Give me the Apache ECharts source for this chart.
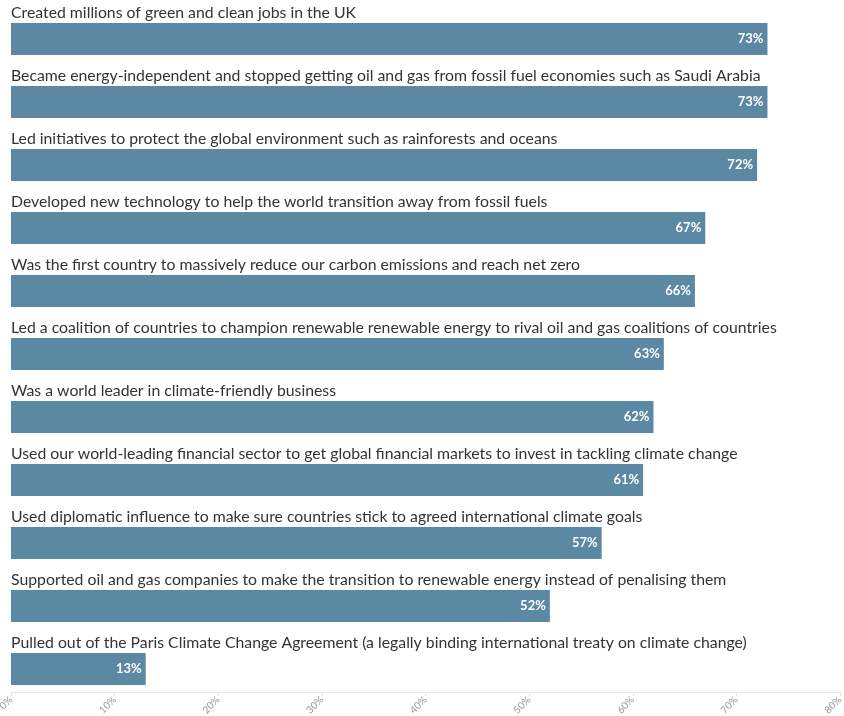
<!DOCTYPE html>
<html>
<head>
<meta charset="utf-8">
<script src="https://cdn.jsdelivr.net/npm/echarts@6/dist/echarts.min.js"></script>
<style>
  html, body { margin: 0; padding: 0; background: #fff; }
  #chart { width: 844px; height: 716px; }
</style>
</head>
<body>
<div id="chart"></div>
<script>
// Statements, in display order (top to bottom)
const statements = [
  'Created millions of green and clean jobs in the UK',
  'Became energy-independent and stopped getting oil and gas from fossil fuel economies such as Saudi Arabia',
  'Led initiatives to protect the global environment such as rainforests and oceans',
  'Developed new technology to help the world transition away from fossil fuels',
  'Was the first country to massively reduce our carbon emissions and reach net zero',
  'Led a coalition of countries to champion renewable renewable energy to rival oil and gas coalitions of countries',
  'Was a world leader in climate-friendly business',
  'Used our world-leading financial sector to get global financial markets to invest in tackling climate change',
  'Used diplomatic influence to make sure countries stick to agreed international climate goals',
  'Supported oil and gas companies to make the transition to renewable energy instead of penalising them',
  'Pulled out of the Paris Climate Change Agreement (a legally binding international treaty on climate change)'
];

// Share of respondents (%)
const shares = [73, 73, 72, 67, 66, 63, 62, 61, 57, 52, 13];

// Value axis range and step (%)
const axisMin = 0;
const axisMax = 80;
const axisStep = 10;

const chart = echarts.init(document.getElementById('chart'));

chart.setOption({
  animation: false,
  backgroundColor: '#ffffff',
  grid: {
    left: 11,
    right: 4,
    top: 7.5,
    bottom: 15.5,
    containLabel: false,
    outerBoundsMode: 'none'
  },
  xAxis: {
    type: 'value',
    min: axisMin,
    max: axisMax,
    interval: axisStep,
    offset: -8.5,
    axisLine: { show: true, lineStyle: { color: '#e4e4e4', width: 1 } },
    axisTick: { show: true, length: 4, lineStyle: { color: '#e4e4e4' } },
    splitLine: { show: false },
    axisLabel: {
      rotate: 45,
      margin: 6,
      fontSize: 10,
      color: '#999999',
      fontFamily: 'Lato',
      formatter: v => v + '%'
    }
  },
  yAxis: {
    type: 'category',
    data: statements,
    inverse: true,
    axisLine: { show: false },
    axisTick: { show: false },
    splitLine: { show: false },
    axisLabel: {
      inside: true,
      interval: 0,
      margin: 0,
      align: 'left',
      verticalAlign: 'bottom',
      padding: [0, 0, 18, 0],
      fontSize: 15.8,
      color: '#333333',
      fontFamily: 'Lato'
    }
  },
  series: [{
    type: 'bar',
    data: shares,
    barWidth: 32,
    itemStyle: { color: '#5b88a3' },
    label: {
      show: true,
      position: 'insideRight',
      distance: 4,
      color: '#ffffff',
      fontSize: 13,
      fontWeight: 'bold',
      fontFamily: 'Lato',
      formatter: p => p.value + '%'
    }
  }]
});
</script>
</body>
</html>
